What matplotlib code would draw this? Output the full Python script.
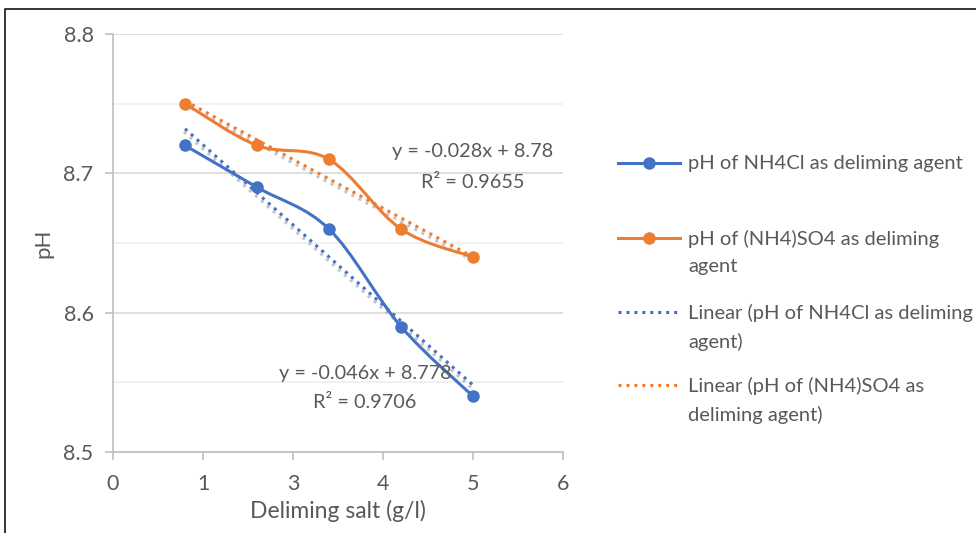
import numpy as np
import matplotlib
matplotlib.use("Agg")
import matplotlib.pyplot as plt
from matplotlib.path import Path
from matplotlib.patches import PathPatch
from matplotlib.lines import Line2D
import matplotlib.patheffects as pe

# ---- data ----
salt = [1, 2, 3, 4, 5]
ph_nh4cl = [8.72, 8.69, 8.66, 8.59, 8.54]
ph_nh4so4 = [8.75, 8.72, 8.71, 8.66, 8.64]
xtick_pos = [0, 1.25, 2.5, 3.75, 5, 6.25]
xtick_labels = ["0", "1", "3", "4", "5", "6"]
ytick_pos = [8.5, 8.6, 8.7, 8.8]
series_names = ["pH of NH4Cl as deliming agent",
                "pH of (NH4)SO4 as deliming\nagent",
                "Linear (pH of NH4Cl as deliming\nagent)",
                "Linear (pH of (NH4)SO4 as\ndeliming agent)"]
eq_blue = "y = -0.046x + 8.778\nR² = 0.9706"
eq_orange = "y = -0.028x + 8.78\nR² = 0.9655"

BLUE = "#4472C4"
ORANGE = "#ED7D31"
TXT = "#595959"
plt.rcParams['font.family'] = ['Lato', 'DejaVu Sans']

fig = plt.figure(figsize=(9.76, 5.33), dpi=100)
W, H = 976, 533
ax = fig.add_axes([113 / W, 1 - 452 / H, 450 / W, 418 / H])

ax.set_xlim(0, 6.25)
ax.set_ylim(8.5, 8.8)


def smooth_path(xs, ys):
    pts = np.column_stack([xs, ys]).astype(float)
    n = len(pts)
    verts = [pts[0]]
    codes = [Path.MOVETO]
    for i in range(n - 1):
        p0 = pts[i - 1] if i > 0 else pts[i]
        p1 = pts[i]
        p2 = pts[i + 1]
        p3 = pts[i + 2] if i + 2 < n else pts[i + 1]
        c1 = p1 + (p2 - p0) / 6.0
        c2 = p2 - (p3 - p1) / 6.0
        verts += [c1, c2, p2]
        codes += [Path.CURVE4] * 3
    return Path(verts, codes)


shadow = [pe.SimpleLineShadow(offset=(-0.8, -2.2), shadow_color="#a0a0a0", alpha=0.6), pe.Normal()]

for ys, col in [(ph_nh4cl, BLUE), (ph_nh4so4, ORANGE)]:
    k, b = np.polyfit(salt, ys, 1)
    xt = np.array([salt[0], salt[-1]])
    ax.plot(xt, k * xt + b, linestyle=(0, (1, 1.6)), color=col, lw=2.2,
            path_effects=shadow, zorder=3)

for ys, col in [(ph_nh4cl, BLUE), (ph_nh4so4, ORANGE)]:
    patch = PathPatch(smooth_path(salt, ys), facecolor="none", edgecolor=col,
                      lw=2.2, zorder=4, capstyle="round")
    ax.add_patch(patch)
    ax.plot(salt, ys, linestyle="none", marker="o", markersize=8, color=col, zorder=5)

ax.set_yticks(ytick_pos)
ax.set_yticks([8.55, 8.65, 8.75], minor=True)
ax.grid(True, axis="y", which="major", color="#d9d9d9", lw=1.2)
ax.grid(True, axis="y", which="minor", color="#efefef", lw=1.2)
ax.set_axisbelow(True)
ax.set_xticks(xtick_pos)
ax.set_xticklabels(xtick_labels)
ax.set_yticklabels(["8.5", "8.6", "8.7", "8.8"])

for s in ["top", "right"]:
    ax.spines[s].set_visible(False)
for s in ["left", "bottom"]:
    ax.spines[s].set_color("#bfbfbf")
    ax.spines[s].set_linewidth(1.2)
ax.tick_params(axis="both", which="major", colors="#bfbfbf", labelcolor=TXT,
               labelsize=15.5, length=6, width=1.2)
ax.tick_params(axis="y", which="minor", length=0)
ax.tick_params(axis="y", pad=8)
ax.tick_params(axis="x", pad=10)

ax.set_xlabel("Deliming salt (g/l)", fontsize=16.5, color=TXT, labelpad=4)
ax.set_ylabel("pH", fontsize=16, color=TXT, labelpad=7)

ax.text(3.5, 8.546, eq_blue, ha="center", va="center", fontsize=14.3, color=TXT,
        linespacing=1.9, zorder=6)
ax.text(4.99, 8.7046, eq_orange, ha="center", va="center", fontsize=14.3, color=TXT,
        linespacing=1.95, zorder=6)

handles = [dict(color=BLUE, ls="-", marker="o"),
           dict(color=ORANGE, ls="-", marker="o"),
           dict(color=BLUE, ls=(0, (1, 1.6)), marker=None),
           dict(color=ORANGE, ls=(0, (1, 1.6)), marker=None)]
ys_leg = [163, 238, 312, 385]
for h, y, name in zip(handles, ys_leg, series_names):
    yf = 1 - y / H
    fig.add_artist(Line2D([618 / W, 680 / W], [yf, yf], color=h["color"], ls=h["ls"],
                          lw=2.2, transform=fig.transFigure))
    if h["marker"]:
        fig.add_artist(Line2D([649 / W], [yf], color=h["color"], marker="o",
                              markersize=8, transform=fig.transFigure))
    fig.text(688 / W, yf + 8 / H, name, ha="left", va="top", fontsize=14.5, color=TXT,
             linespacing=1.7)

fig.add_artist(Line2D([5 / W, 5 / W, 1.0], [0, 1 - 9 / H, 1 - 9 / H], color="#262626",
                      lw=1.3, transform=fig.transFigure))

fig.savefig("out.png", dpi=100)
